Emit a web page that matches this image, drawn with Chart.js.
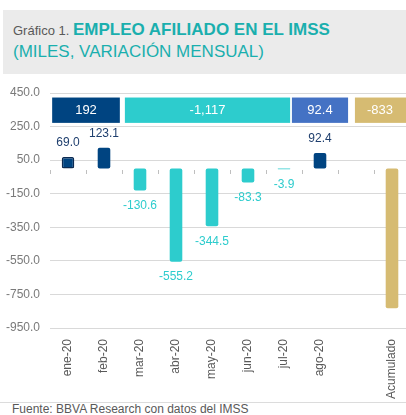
<!DOCTYPE html>
<html>
<head>
<meta charset="utf-8">
<script src="https://cdn.jsdelivr.net/npm/chart.js@4"></script>
<style>
  html,body{margin:0;padding:0;background:#fff;width:406px;height:415px;overflow:hidden;font-family:"Liberation Sans",Arial,sans-serif;}
  #title{position:absolute;left:3px;top:10px;width:403px;height:64px;background:#EBEBEB;}
  #t1{position:absolute;left:10px;top:10px;white-space:nowrap;line-height:20px;}
  #t1 .pre{font-size:13px;color:#595959;}
  #t1 .main{font-size:17px;font-weight:bold;color:#1AAFAE;}
  #t2{position:absolute;left:10px;top:32px;font-size:17px;line-height:20px;color:#1AAFAE;white-space:nowrap;}
  #wrap{position:absolute;left:0;top:80px;width:418px;height:321px;}
  #rule{position:absolute;left:0;top:402px;width:406px;height:1px;background:#DCDCDC;}
  #src{position:absolute;left:12px;top:402px;font-size:12px;color:#595959;white-space:nowrap;}
</style>
</head>
<body>
<div id="title">
  <div id="t1"><span class="pre">Gráfico 1. </span><span class="main">EMPLEO AFILIADO EN EL IMSS</span></div>
  <div id="t2">(MILES, VARIACIÓN MENSUAL)</div>
</div>
<div id="wrap"><canvas id="c" width="418" height="321"></canvas></div>
<div id="rule"></div>
<div id="src">Fuente: BBVA Research con datos del IMSS</div>
<script>
// ---- data ----
const categories = ['ene-20','feb-20','mar-20','abr-20','may-20','jun-20','jul-20','ago-20','','Acumulado'];
const monthlyValues = [69.0, 123.1, -130.6, -555.2, -344.5, -83.3, -3.9, 92.4, null, -833];
const summaryValues = [192, -1117, 92.4, -833];
const summaryLabels = ['192', '-1,117', '92.4', '-833'];
const yTickMin = -950, yTickMax = 450, yTickStep = 200;

// ---- styles ----
const NAVY = '#004481', TEAL = '#2DCCCD', BLUE = '#4472C4', GOLD = '#D6BB72';
const barColors = categories.map((c, i) => c === 'Acumulado' ? GOLD : (monthlyValues[i] >= 0 ? NAVY : TEAL));
const summaryColors = [NAVY, TEAL, BLUE, GOLD];
// summary box extents in category-index units, and vertical extent in axis units
const summaryExtents = [[-0.44, 1.44], [1.58, 6.17], [6.22, 7.78], [7.97, 9.7]];
const summaryBand = [272, 423];

const zeroTicksPlugin = {
  id: 'zeroTicks',
  beforeDatasetsDraw(chart) {
    const {ctx, scales: {x, y}} = chart;
    const y0 = Math.round(y.getPixelForValue(0));
    ctx.save();
    ctx.strokeStyle = '#BFBFBF';
    ctx.lineWidth = 1;
    ctx.beginPath();
    for (let i = 0; i <= categories.length; i++) {
      const px = Math.round(x.getPixelForValue(i - 0.5)) + 0.5;
      ctx.moveTo(px, y0 + 1);
      ctx.lineTo(px, y0 + 5);
    }
    ctx.stroke();
    ctx.restore();
  }
};

const labelsPlugin = {
  id: 'valLabels',
  afterDatasetsDraw(chart) {
    const {ctx, scales: {x, y}} = chart;
    const meta = chart.getDatasetMeta(0);
    ctx.save();
    ctx.font = '12px "Liberation Sans", Arial, sans-serif';
    ctx.textAlign = 'center';
    ctx.textBaseline = 'middle';
    meta.data.forEach((bar, i) => {
      const v = monthlyValues[i];
      if (v === null || categories[i] === 'Acumulado') return;
      if (v >= 0) {
        ctx.fillStyle = '#1F3F6E';
        ctx.fillText(v.toFixed(1), bar.x, bar.y - 14);
      } else {
        ctx.fillStyle = TEAL;
        ctx.fillText(v.toFixed(1), bar.x, bar.y + 15);
      }
    });
    // summary boxes
    const yt = y.getPixelForValue(summaryBand[1]);
    const yb = y.getPixelForValue(summaryBand[0]);
    ctx.font = '13px "Liberation Sans", Arial, sans-serif';
    summaryValues.forEach((v, i) => {
      const x1 = x.getPixelForValue(summaryExtents[i][0]);
      const x2 = x.getPixelForValue(summaryExtents[i][1]);
      ctx.fillStyle = summaryColors[i];
      ctx.fillRect(x1, yt, x2 - x1, yb - yt);
      ctx.fillStyle = '#FFFFFF';
      const cx = Math.min((x1 + x2) / 2, i === 3 ? 380 : 9999);
      ctx.fillText(summaryLabels[i], cx, (yt + yb) / 2 + 0.5);
    });
    ctx.restore();
  }
};

new Chart(document.getElementById('c'), {
  type: 'bar',
  data: {
    labels: categories,
    datasets: [{
      data: monthlyValues,
      backgroundColor: barColors,
      borderColor: '#0B2A52',
      borderWidth: categories.map((c, i) => i === 0 ? 1.5 : 0),
      borderSkipped: false,
      borderRadius: 2,
      barPercentage: 0.35,
      categoryPercentage: 1
    }]
  },
  options: {
    responsive: false,
    animation: false,
    layout: { padding: { top: 13, right: 8, left: 0, bottom: 0 } },
    plugins: { legend: { display: false }, tooltip: { enabled: false } },
    scales: {
      x: {
        grid: { display: false, drawTicks: false },
        border: { display: false },
        ticks: {
          autoSkip: false, maxRotation: 90, minRotation: 90, padding: 11,
          color: '#595959',
          font: { family: '"Liberation Sans", Arial, sans-serif', size: 12 }
        },
        afterFit(s) { s.height = 73; s.paddingLeft = 0; s.paddingRight = 0; }
      },
      y: {
        min: yTickMin, max: yTickMax,
        grid: { color: '#D9D9D9', drawTicks: false, lineWidth: 1 },
        border: { display: false },
        ticks: {
          stepSize: yTickStep, padding: 10, color: '#7A7A7A',
          font: { family: '"Liberation Sans", Arial, sans-serif', size: 12 },
          callback: v => v.toFixed(1)
        },
        afterFit(s) { s.width = 50; s.paddingTop = 0; s.paddingBottom = 0; }
      }
    }
  },
  plugins: [zeroTicksPlugin, labelsPlugin]
});
</script>
</body>
</html>
